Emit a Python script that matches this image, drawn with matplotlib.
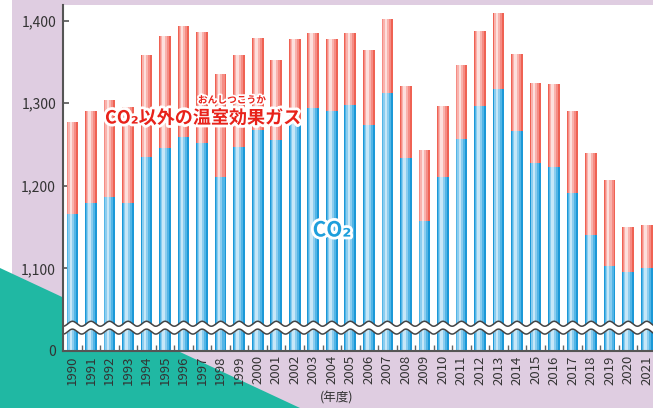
import numpy as np
import matplotlib
matplotlib.use('Agg')
import matplotlib.pyplot as plt
from matplotlib.patches import Polygon, Rectangle
import matplotlib.patheffects as pe

plt.rcParams['font.family'] = ['Noto Sans CJK JP', 'DejaVu Sans']

# data (Mt CO2 eq.)
years = list(range(1990, 2022))
co2 = [1166, 1179, 1186, 1179, 1235, 1246, 1259, 1252, 1211, 1247,
       1268, 1255, 1279, 1294, 1291, 1298, 1274, 1313, 1234, 1158,
       1211, 1257, 1297, 1317, 1266, 1228, 1223, 1191, 1140, 1103,
       1096, 1100]
total = [1277, 1291, 1304, 1296, 1359, 1381, 1393, 1386, 1336, 1358,
         1379, 1353, 1378, 1385, 1378, 1385, 1364, 1402, 1321, 1244,
         1297, 1346, 1388, 1409, 1360, 1325, 1323, 1291, 1240, 1207,
         1150, 1153]
ytick_vals = [1000, 1100, 1200, 1300, 1400]
ytick_labels = ['0', '1,100', '1,200', '1,300', '1,400']
base = 1000  # value at the axis break

W, H = 653, 408
fig = plt.figure(figsize=(W / 100, H / 100), dpi=100)
fig.patch.set_facecolor('white')

# background shapes
fig.patches.append(Rectangle((12 / W, 0), 1 - 12 / W, 1, transform=fig.transFigure,
                             facecolor='#dfcde1', edgecolor='none', zorder=-2))
fig.patches.append(Polygon([(0, 1 - 268 / H), (300 / W, 0), (0, 0)], closed=True,
                           transform=fig.transFigure, facecolor='#20b8a3',
                           edgecolor='none', zorder=-1))

ax = fig.add_axes([63 / W, 1 - 351 / H, 1 - 63 / W, (351 - 5) / H])
ax.set_facecolor('white')

x = np.arange(len(years))
co2_h = np.array(co2) - base
oth_h = np.array(total) - np.array(co2)

# cylinder-like shading: layered bars (width, offset, colour)
blue_layers = [(0.63, 0.0, '#1b98d7'), (0.48, -0.03, '#52b5e6'),
               (0.32, -0.06, '#8bcdef'), (0.14, -0.08, '#c6e7f8')]
red_layers = [(0.63, 0.0, '#ef6253'), (0.48, -0.03, '#f58c84'),
              (0.32, -0.06, '#f9b3ad'), (0.14, -0.08, '#fde0dd')]
for w, off, c in blue_layers:
    ax.bar(x + off, co2_h, width=w, bottom=base, color=c, linewidth=0, zorder=2)
for w, off, c in red_layers:
    ax.bar(x + off, oth_h, width=w, bottom=co2, color=c, linewidth=0, zorder=2)

# wavy break band
xs = np.linspace(-0.6, len(years) + 0.5, 3000)
wave = 3.0 * np.cos(2 * np.pi * xs)
y_up = 1033 + wave
y_lo = 1023.5 + wave
ax.fill_between(xs, y_lo, y_up, color='white', zorder=3, linewidth=0)
ax.plot(xs, y_up, color='#444444', lw=1.1, zorder=4)
ax.plot(xs, y_lo, color='#444444', lw=1.1, zorder=4)

ax.set_xlim(-0.51, len(years) - 0.66)
ax.set_ylim(base, 1419)

for side in ['top', 'right']:
    ax.spines[side].set_visible(False)
for side in ['left', 'bottom']:
    ax.spines[side].set_color('#555555')
    ax.spines[side].set_linewidth(1.5)
    ax.spines[side].set_zorder(5)

ax.set_yticks(ytick_vals)
ax.set_yticklabels(ytick_labels)
ax.tick_params(axis='y', direction='in', length=4, width=1.2, color='#555555',
               labelsize=10, labelcolor='#333333', pad=5)

ax.set_xticks(x)
ax.set_xticklabels([str(y) for y in years], rotation=90)
ax.set_xticks(x[:-1] + 0.5, minor=True)
ax.tick_params(axis='x', which='major', length=0, labelsize=9.5,
               labelcolor='#333333', pad=3)
ax.tick_params(axis='x', which='minor', direction='in', length=4, width=1,
               color='#666666')

# labels
stroke = [pe.withStroke(linewidth=4, foreground='white')]
fig.text(105 / W, 1 - 118 / H, 'CO₂以外の温室効果ガス', color='#e8221a',
         fontsize=13, fontweight='bold', ha='left', va='center',
         path_effects=stroke)
fig.text(232 / W, 1 - 100 / H, 'おんしつこうか', color='#e8221a',
         fontsize=7, fontweight='bold', ha='center', va='center',
         path_effects=[pe.withStroke(linewidth=2.5, foreground='white')])
fig.text(332 / W, 1 - 230 / H, 'CO₂', color='#1e9fdc', fontsize=15,
         fontweight='bold', ha='center', va='center', path_effects=stroke)
fig.text(337 / W, 1 - 398 / H, '(年度)', color='#333333', fontsize=9,
         ha='center', va='center')

fig.savefig('out.png', dpi=100, facecolor=fig.get_facecolor())
